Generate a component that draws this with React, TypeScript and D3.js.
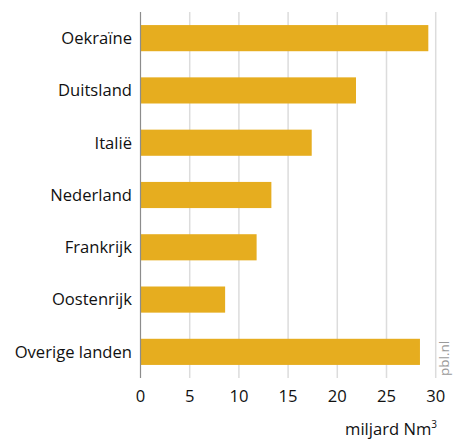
import React from 'react';
import * as d3 from 'd3';

const countries = ['Oekraïne', 'Duitsland', 'Italië', 'Nederland', 'Frankrijk', 'Oostenrijk', 'Overige landen'];
const volumes = [29.25, 21.9, 17.4, 13.3, 11.8, 8.6, 28.4];
const ticks = [0, 5, 10, 15, 20, 25, 30];

const W = 454;
const H = 443;
const font = "'Open Sans', sans-serif";

const App = () => {
  const x = d3.scaleLinear().domain([0, 30]).range([140.5, 435.7]);
  const y = d3.scaleBand<string>()
    .domain(countries)
    .range([12, 378])
    .paddingInner(0.5)
    .paddingOuter(0.25);

  return (
    <svg width={W} height={H} style={{ position: 'absolute', left: 0, top: 0 }}>
      {/* grid */}
      {ticks.slice(1).map((t) => (
        <line key={t} x1={x(t)} x2={x(t)} y1={12} y2={378} stroke="#dcdcdc" strokeWidth={1.5} />
      ))}
      {countries.map((c, i) => (
        <rect
          key={c}
          x={x(0)}
          y={y(c)}
          width={x(volumes[i]) - x(0)}
          height={y.bandwidth()}
          fill="#e6ad1f"
        />
      ))}
      <line x1={x(0)} x2={x(0)} y1={12} y2={378} stroke="#8c8c8c" strokeWidth={1.2} />
      {countries.map((c) => (
        <text
          key={c}
          x={132}
          y={(y(c) ?? 0) + y.bandwidth() / 2}
          dy="0.35em"
          textAnchor="end"
          fontFamily={font}
          fontSize={16.6}
          fill="#111"
        >
          {c}
        </text>
      ))}
      {ticks.map((t) => (
        <text key={t} x={x(t)} y={402} textAnchor="middle" fontFamily={font} fontSize={16.6} fill="#111">
          {t}
        </text>
      ))}
      <text x={437} y={435} textAnchor="end" fontFamily={font} fontSize={16.6} fill="#111">
        miljard Nm<tspan dy={-7} fontSize={10}>3</tspan>
      </text>
      <text
        transform="translate(449,376) rotate(-90)"
        fontFamily={font}
        fontSize={13.5}
        fill="#9a9a9a"
      >
        pbl.nl
      </text>
    </svg>
  );
};

export default App;
